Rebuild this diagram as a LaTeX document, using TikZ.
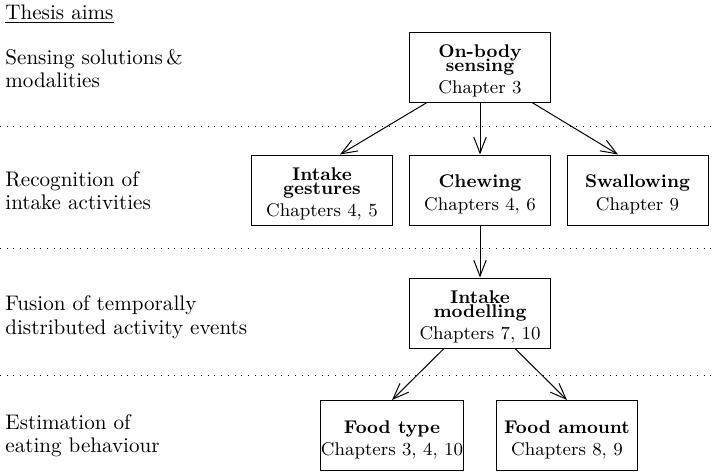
\documentclass[tikz,border=0pt]{standalone}
\usepackage{fontspec}
\usetikzlibrary{arrows.meta}
\newcommand\boxstrut{\rule{0pt}{10.6pt}}
\begin{document}
\begin{tikzpicture}[x=0.5pt,y=-0.5pt,
  box/.style={draw, line width=0.5pt, minimum width=70.5pt, minimum height=35pt,
    inner sep=0pt, align=center, font=\fontsize{9.2}{11.3}\selectfont},
  lab/.style={anchor=base west, inner sep=0pt, align=left, font=\fontsize{10.55}{11.6}\selectfont},
  sep/.style={line width=0.5pt, dash pattern=on 0.5pt off 2.85pt},
  arr/.style={line width=0.5pt, -{Straight Barb[length=8pt,width=6.2pt,line width=0.5pt]}}]
\useasboundingbox (0,0) rectangle (717,471);
% separators
\coordinate (s1l) at (0,126); \coordinate (s1r) at (717,126);
\coordinate (s2l) at (0,248.5); \coordinate (s2r) at (717,248.5);
\coordinate (s3l) at (0,375.5); \coordinate (s3r) at (717,375.5);
\draw[sep] (s1l) -- (s1r);
\draw[sep] (s2l) -- (s2r);
\draw[sep] (s3l) -- (s3r);
% labels (anchored at the baseline of the last line)
\node[lab] (title) at (5,19.3) {\underline{Thesis aims}};
\node[lab] (l1) at (5,87.3) {Sensing solutions\,\&\\modalities};
\node[lab] (l2) at (5,209.3) {Recognition of\\intake activities};
\node[lab] (l3) at (5,334) {Fusion of temporally\\distributed activity events};
\node[lab] (l4) at (5,452.3) {Estimation of\\eating behaviour};
% boxes
\node[box] (onbody) at (480,67) {\boxstrut\textbf{On-body}\\[-4.65pt]\textbf{sensing}\\Chapter 3};
\node[box] (gest) at (322,190) {\boxstrut\textbf{Intake}\\[-4.65pt]\textbf{gestures}\\Chapters 4, 5};
\node[box] (chew) at (480,190) {\boxstrut\textbf{Chewing}\\Chapters 4, 6};
\node[box] (swal) at (637.5,190) {\boxstrut\textbf{Swallowing}\\Chapter 9};
\node[box] (model) at (480,313) {\boxstrut\textbf{Intake}\\[-4.65pt]\textbf{modelling}\\Chapters 7, 10};
\node[box] (ftype) at (392,435.5) {\boxstrut\textbf{Food type}\\Chapters 3, 4, 10};
\node[box] (famt) at (567,435.5) {\boxstrut\textbf{Food amount}\\Chapters 8, 9};
% arrows
\draw[arr] ([xshift=-26.5pt]onbody.south) -- ([xshift=9pt]gest.north);
\draw[arr] (onbody.south) -- (chew.north);
\draw[arr] ([xshift=26pt]onbody.south) -- ([xshift=-9.75pt]swal.north);
\draw[arr] (chew.south) -- (model.north);
\draw[arr] ([xshift=-18pt]model.south) -- (ftype.north);
\draw[arr] ([xshift=17.5pt]model.south) -- (famt.north);
\end{tikzpicture}
\end{document}
